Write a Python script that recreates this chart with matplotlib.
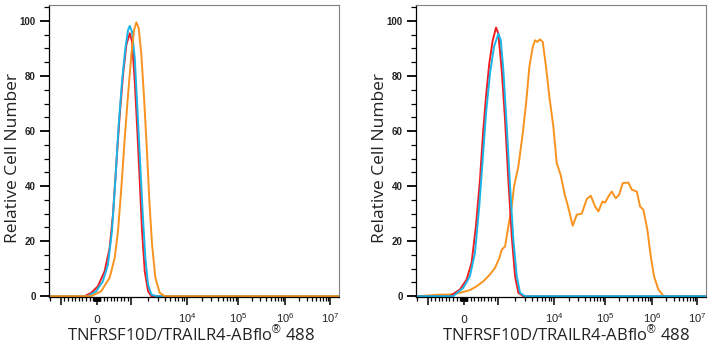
import numpy as np
import matplotlib
matplotlib.use('Agg')
from matplotlib import pyplot as plt
from matplotlib.ticker import FixedLocator, FixedFormatter, MultipleLocator, NullFormatter

# ---- data (fluorescence intensity vs relative cell number) ----
# left panel
l_ctrl_x = [-2500, -340, -158, 29, 226, 374, 471, 568, 668, 765, 862, 962, 1042, 1164,
            1296, 1430, 1572, 1757, 2012, 2304, 2e7]
l_ctrl_y = [0, 0, 1.2, 3.6, 9, 17.5, 29.6, 47.8, 65.9, 80.4, 91.3, 95.5, 92.5, 78,
            59.8, 41.7, 23.6, 9, 1.8, 0, 0]
l_iso_x = [-2500, -250, -19, 176, 324, 441, 538, 638, 735, 832, 912, 962, 1042, 1164,
           1296, 1448, 1618, 1801, 2012, 2304, 2830, 2e7]
l_iso_y = [0, 0, 1.8, 5.4, 11.5, 23.6, 41.7, 62.3, 78, 90, 96.7, 98.2, 96, 86.5,
           68.3, 49, 29.6, 13.9, 4.2, 0.6, 0, 0]
l_ab_x = [-2500, -158, 126, 374, 521, 618, 715, 815, 912, 1012, 1131, 1244, 1372, 1527,
          1707, 1908, 2122, 2371, 2716, 3254, 4000, 2e7]
l_ab_y = [0, 0, 1.8, 6.7, 13.9, 23.6, 39.3, 57.4, 73.2, 87.7, 96.7, 99.5, 97.3, 87.7,
          72, 53.8, 34.5, 18.8, 6.7, 1.2, 0, 0]

# right panel
r_ctrl_x = [-2500, -389, -111, 79, 226, 353, 471, 568, 647, 744, 844, 941, 1012, 1164,
            1334, 1527, 1757, 2012, 2304, 2830, 2e7]
r_ctrl_y = [0, 0, 2.4, 6, 12.1, 25.4, 42.3, 60.4, 72.5, 84.6, 93, 97.6, 95.4, 82,
            64, 42.3, 21.7, 7.2, 1.2, 0, 0]
r_iso_x = [-2500, -297, -19, 176, 324, 450, 550, 647, 765, 882, 1012, 1117, 1244, 1430,
           1638, 1876, 2158, 2471, 3035, 2e7]
r_iso_y = [0, 0, 3, 7.2, 15.7, 32.6, 49.5, 66.4, 81, 90.6, 95.4, 93, 82, 61.6,
           39.9, 20.5, 7.2, 1.2, 0, 0]
r_ab_x = [-2500, -1800, -750, -389, -111, 176, 374, 568, 765, 912, 1055, 1164, 1334,
          1527, 1757, 1931, 2304, 2761, 3162, 3622, 4165, 4579, 5030, 5623, 6280,
          7197, 8240, 9720, 11300, 13500, 16400, 18000, 23260, 27870, 34900, 43770,
          52430, 63680, 73890, 88510, 100000, 117500, 138800, 168900, 198600,
          238000, 313000, 370000, 473000, 555600, 653000, 794000, 938000, 1108000,
          1380000, 1783000, 2120000, 2e7]
r_ab_y = [0, 0, 0.5, 0.6, 1.2, 2.2, 3.6, 5.4, 7.9, 10.3, 13.9, 16.9, 18.1,
          25.4, 32.6, 39.9, 47.1, 59.2, 70, 83.3, 90.6, 93, 92.4, 93.3, 92.4,
          83.3, 72.5, 61.6, 48.3, 44, 36.5, 34, 25.6, 29.6, 30, 35.3,
          36.5, 32.6, 30.8, 34.4, 34, 36.2, 38, 35.6, 36.8,
          41.1, 41.3, 38.7, 38, 32.6, 31.4, 24.2, 14.5, 7.2,
          2.4, 0.2, 0, 0]

major_vals = [-1e3, 0, 1e3, 1e4, 1e5, 1e6, 1e7]
major_labels = ['', '0', '', '$10^{4}$', '$10^{5}$', '$10^{6}$', '$10^{7}$']

# biexponential-like display: linear inside +-1e3, log outside
anchor_g = np.array([-2, -1, 0, 1, 2, 3, 4, 5, 6])
anchor_pos = np.array([-0.083, 0.041, 0.165, 0.283, 0.476, 0.652, 0.814, 0.969, 1.124])


def _g(x):
    x = np.asarray(x, float)
    a = np.abs(x)
    return np.where(a <= 1e3, x / 1e3,
                    np.sign(x) * (1 + np.log10(np.maximum(a, 1e3) / 1e3)))


def _ginv(g):
    g = np.asarray(g, float)
    a = np.abs(g)
    return np.where(a <= 1, g * 1e3, np.sign(g) * 1e3 * 10 ** (np.maximum(a, 1) - 1))


def fwd(x):
    return np.interp(_g(x), anchor_g, anchor_pos)


def inv(u):
    return _ginv(np.interp(u, anchor_pos, anchor_g))


# minor ticks: +-10..900 around zero, then 2..9 x each decade
minor_vals = []
for k in [1, 2]:
    for m in range(1, 10):
        v = m * 10 ** k
        minor_vals += [v, -v]
minor_vals += [m * 10 ** k for k in range(3, 7) for m in range(2, 10)]
minor_vals += [-m * 1e3 for m in range(2, 10)]

plt.rcParams['mathtext.fontset'] = 'custom'
plt.rcParams['mathtext.rm'] = 'Liberation Sans'
plt.rcParams['mathtext.it'] = 'Liberation Sans'

RED = '#f01c22'
CYAN = '#19b5e8'
ORANGE = '#f7931e'

fig = plt.figure(figsize=(7.14, 3.5), dpi=100)
ax1 = fig.add_axes([49 / 714, 53 / 350, 290 / 714, 292 / 350])
ax2 = fig.add_axes([416 / 714, 53 / 350, 290 / 714, 292 / 350])

ax1.plot(l_ctrl_x, l_ctrl_y, color=RED, lw=1.4)
ax1.plot(l_iso_x, l_iso_y, color=CYAN, lw=1.4)
ax1.plot(l_ab_x, l_ab_y, color=ORANGE, lw=1.4)

ax2.plot(r_ab_x, r_ab_y, color=ORANGE, lw=1.4)
ax2.plot(r_ctrl_x, r_ctrl_y, color=RED, lw=1.4)
ax2.plot(r_iso_x, r_iso_y, color=CYAN, lw=1.4)

for ax, lab_x in [(ax1, 0.49), (ax2, 0.516)]:
    ax.set_xscale('function', functions=(fwd, inv))
    ax.set_xlim(float(inv(0.0)), float(inv(1.0)))
    ax.set_ylim(-0.3, 105.8)
    ax.xaxis.set_major_locator(FixedLocator(major_vals))
    ax.xaxis.set_major_formatter(FixedFormatter(major_labels))
    ax.xaxis.set_minor_locator(FixedLocator(minor_vals))
    ax.xaxis.set_minor_formatter(NullFormatter())
    ax.yaxis.set_major_locator(MultipleLocator(20))
    ax.yaxis.set_minor_locator(MultipleLocator(5))
    ax.tick_params(axis='x', which='major', direction='out', length=5.5, width=1.1,
                   labelsize=8, pad=13, colors='black', labelcolor='#222')
    ax.tick_params(axis='x', which='minor', direction='out', length=3, width=0.9)
    ax.tick_params(axis='y', which='major', direction='out', length=6.5, width=1.3,
                   labelsize=7, pad=3)
    ax.tick_params(axis='y', which='minor', direction='out', length=3.5, width=0.9)
    for t in ax.get_xticklabels():
        t.set_verticalalignment('baseline')
    for t in ax.get_yticklabels():
        t.set_fontweight('bold')
        t.set_family('Liberation Sans')
        t.set_color('#222')
    for side in ['top', 'right']:
        ax.spines[side].set_color('#808080')
        ax.spines[side].set_linewidth(0.8)
    for side in ['left', 'bottom']:
        ax.spines[side].set_color('black')
        ax.spines[side].set_linewidth(0.9)
    ax.set_xlabel('TNFRSF10D/TRAILR4-ABflo$^{®}$ 488', fontsize=12,
                  family='Open Sans', color='#222')
    ax.xaxis.set_label_coords(lab_x, -0.095)
    ax.set_ylabel('Relative Cell Number', fontsize=12.5, family='Open Sans', color='#222')
    ax.yaxis.set_label_coords(-0.095, 0.476)

fig.savefig('out.png', dpi=100)
